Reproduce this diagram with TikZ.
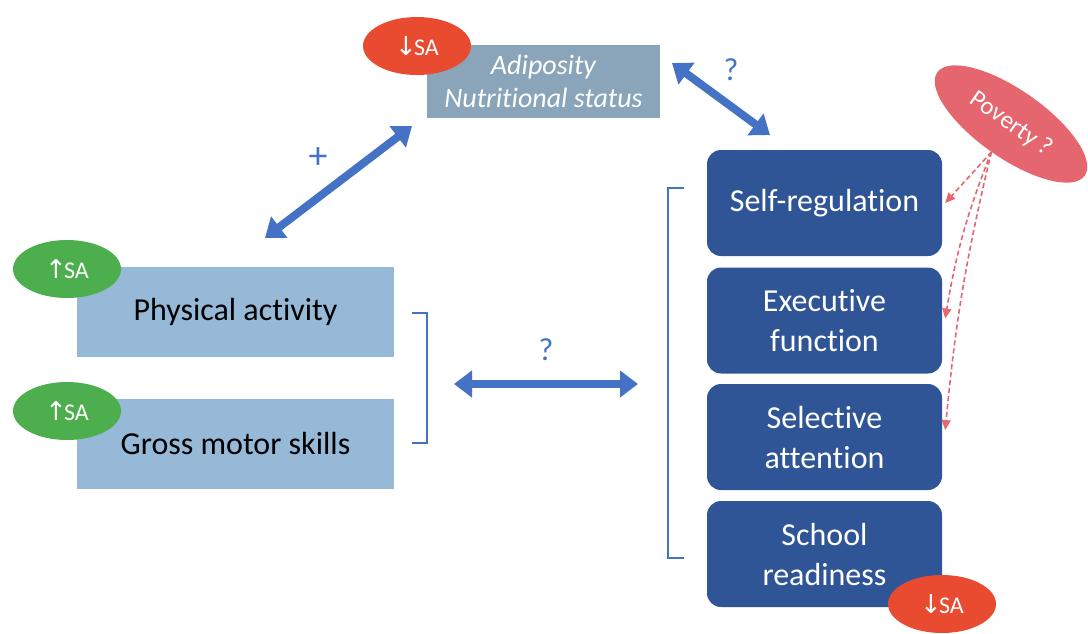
\documentclass[tikz,border=0pt]{standalone}
\usepackage{fontspec}
\setmainfont{Carlito}[Ligatures=NoCommon]
\newfontfamily\arrowfont{DejaVu Sans}[Scale=1.0]
\usetikzlibrary{arrows.meta}
\usetikzlibrary{shapes.geometric}
\usetikzlibrary{calc}
\definecolor{boxgray}{HTML}{8AA5B9}
\definecolor{lightbox}{HTML}{95B9D6}
\definecolor{darkbox}{HTML}{2F5597}
\definecolor{arrblue}{HTML}{4472C4}
\definecolor{saRed}{HTML}{E94B30}
\definecolor{saGreen}{HTML}{4CAE4C}
\definecolor{povRed}{HTML}{E5666F}
\newcommand{\saup}{{\arrowfont\fontsize{26}{28}\selectfont ↑}\kern-3pt SA}
\newcommand{\sadown}{{\arrowfont\fontsize{26}{28}\selectfont ↓}\kern-3pt SA}

\begin{document}
\begin{tikzpicture}[x=1pt,y=-1pt,
    lbox/.style={fill=lightbox, minimum width=317pt, minimum height=90pt, inner sep=0pt, font=\fontsize{32}{38}\selectfont},
    rbox/.style={fill=darkbox, rounded corners=14pt, minimum width=235pt, minimum height=106pt, inner sep=0pt, align=center, text=white, font=\fontsize{32}{40}\selectfont}]
    \tikzset{sa/.style={ellipse, fill=#1, minimum width=108pt, minimum height=58pt, inner sep=0pt, text=white, font=\fontsize{24}{28}\selectfont}}
    \tikzset{bigarr/.style={arrblue, line width=8pt, {Triangle[width=26pt,length=18pt]}-{Triangle[width=26pt,length=18pt]}},
    %thin dashed arrows out of the poverty ellipse
    povarr/.style={povRed, dash pattern=on 5pt off 3pt, line width=1.6pt, -{Triangle[width=9pt,length=10pt]}}}
    \useasboundingbox (0,0) rectangle (1088,633);

    \node[fill=boxgray, minimum width=233pt, minimum height=73pt, inner sep=0pt, align=center, text=white, font=\fontsize{28}{33}\selectfont\itshape] (adi) at (543.5,81.5) {Adiposity\\Nutritional status};
    \node[sa=saRed] (sa1) at (417,46) {\sadown};

    \node[lbox] (pa) at (235.5,312) {Physical activity};
    \node[lbox] (gm) at (235.5,443.5) {Gross motor skills};
    \node[sa=saGreen] (sa2) at (67,269) {\saup};
    \node[sa=saGreen] (sa3) at (67,411) {\saup};

    \node[rbox] (sr) at (824.5,203) {Self-regulation};
    \node[rbox] (ef) at (824.5,320.5) {Executive\\function};
    \node[rbox] (sel) at (824.5,437) {Selective\\attention};
    \node[rbox] (sch) at (824.5,554) {School\\readiness};
    \node[sa=saRed] (sa4) at (942,604) {\sadown};

    \node[ellipse, fill=povRed, minimum width=180pt, minimum height=68pt, inner sep=0pt, rotate=-35, text=white, font=\fontsize{25}{28}\selectfont] (pov) at (1011,124) {Poverty ?};

    % brackets
    \draw[arrblue, line width=1.2pt] (412,313) -- (427,313) -- (427,443) -- (412,443);
    \draw[arrblue, line width=1.2pt] (684,188) -- (668,188) -- (668,558) -- (684,558);

    % big double arrows
    \coordinate (a1) at (265,238); \coordinate (a2) at (412,126);
    \coordinate (b1) at (672,63);  \coordinate (b2) at (770,135);
    \coordinate (c1) at (454,384); \coordinate (c2) at (638,384);
    \draw[bigarr] (a1) -- (a2);
    \draw[bigarr] (b1) -- (b2);
    \draw[bigarr] (c1) -- (c2);
    \node[text=arrblue, font=\fontsize{38}{40}\selectfont] (plus) at (318,158) {+};
    \node[text=arrblue, font=\fontsize{32}{36}\selectfont] (q1) at (731,70) {?};
    \node[text=arrblue, font=\fontsize{32}{36}\selectfont] (q2) at (546,350) {?};

    \draw[povarr] (pov.south) -- ($(sr.east)+(3,0)$);
    \draw[povarr] (pov.south) to[bend right=6] ($(ef.east)+(3,-2)$);
    \draw[povarr] (pov.south) to[bend right=4] ($(sel.east)+(3,-7)$);
\end{tikzpicture}
\end{document}
